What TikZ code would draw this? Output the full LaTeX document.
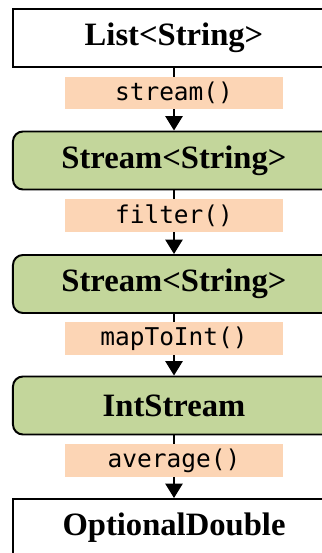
\documentclass[tikz,border=0pt]{standalone}
\usepackage{fontspec}
\setmainfont{Liberation Serif}
\newfontfamily\codefont{DejaVu Sans Mono}
\usepackage{tikz}
\usetikzlibrary{arrows.meta}
\definecolor{stFill}{RGB}{195,214,155}
\definecolor{opFill}{RGB}{252,213,181}
\newcommand{\tname}[1]{\fontsize{23.2}{27}\selectfont\bfseries #1}
\newcommand{\tcall}[1]{{\codefont\fontsize{17.4}{20}\selectfont #1}}

\begin{document}
\begin{tikzpicture}[x=0.025cm,y=-0.025cm,>={Triangle[length=0.36cm,width=0.43cm]},
  plain/.style={draw=black,line width=1.4pt,fill=white,minimum width=8.05cm,minimum height=1.45cm,inner sep=0pt},
  strm/.style ={plain,fill=stFill,rounded corners=0.25cm},
  op/.style   ={fill=opFill,minimum width=5.45cm,minimum height=0.82cm,inner sep=0pt},
  flow/.style ={->,line width=1.4pt}]
\useasboundingbox (0,0) rectangle (322,553);
\clip (0,0) rectangle (322,553);
\node[plain] (ls) at (174, 38.0) {\tname{List<String>}};
\node[strm]  (s1) at (174,160.5) {\tname{Stream<String>}};
\node[strm]  (s2) at (174,284.0) {\tname{Stream<String>}};
\node[strm]  (is) at (174,405.5) {\tname{IntStream}};
\node[plain] (od) at (174,528.0) {\tname{OptionalDouble}};
\draw[flow] (ls) -- node[op,pos=0.4] {\tcall{stream()}}   (s1);
\draw[flow] (s1) -- node[op,pos=0.4] {\tcall{filter()}}   (s2);
\draw[flow] (s2) -- node[op,pos=0.4] {\tcall{mapToInt()}} (is);
\draw[flow] (is) -- node[op,pos=0.4] {\tcall{average()}}  (od);
\end{tikzpicture}
\end{document}
